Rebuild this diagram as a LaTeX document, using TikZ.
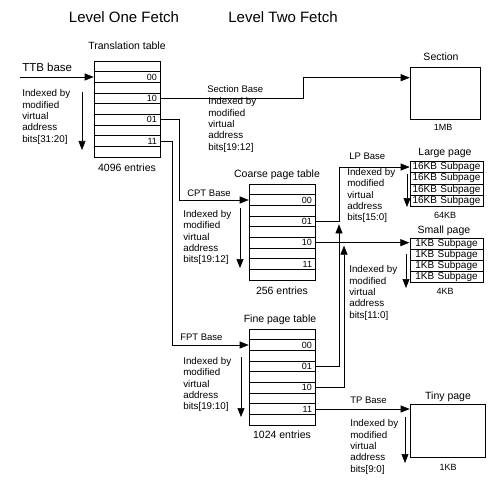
\documentclass[tikz,border=0pt]{standalone}
\usepackage{fontspec}
\setmainfont{Liberation Sans}
\usetikzlibrary{matrix,positioning,arrows.meta,calc}

\begin{document}
\begin{tikzpicture}[x=1pt,y=-1pt,line width=0.6pt,
        arr/.style={-{Triangle[length=9pt,width=7pt]}},
        tbl/.style={matrix of nodes,nodes in empty cells,inner sep=0pt,row sep=-\pgflinewidth,
            nodes={draw,text width=60pt,align=right,inner xsep=3pt,inner ysep=0pt,
                minimum height=10.67pt,font=\fontsize{9}{9}\selectfont}},
        pg/.style={matrix of nodes,inner sep=0pt,row sep=-\pgflinewidth,
            nodes={draw,text width=69pt,align=center,inner xsep=2pt,inner ysep=0pt,
                font=\fontsize{10}{10}\selectfont}},
        idx/.style={anchor=west,align=left,inner sep=0pt,font=\fontsize{9.8}{11.3}\selectfont},
        basetxt/.style={anchor=west,inner sep=0pt,font=\fontsize{9.5}{11}\selectfont},
        captxt/.style={inner sep=0pt,font=\fontsize{10.5}{12}\selectfont},
        sizetxt/.style={inner sep=0pt,font=\fontsize{9}{10}\selectfont}]
    \useasboundingbox (0,0) rectangle (489,481);
    \node (lvlone) [font=\fontsize{15}{17}\selectfont] at (124,17) {Level One Fetch};
    \node (lvltwo) [font=\fontsize{15}{17}\selectfont] at (283,17) {Level Two Fetch};

    \matrix (tt) [tbl] at (127,109) {\\ 00\\ \\ 10\\ \\ 01\\ \\ 11\\ \\};
    \matrix (cpt) [tbl] at (282,232) {\\ 00\\ \\ 01\\ \\ 10\\ \\ 11\\ \\};
    \matrix (fpt) [tbl] at (282,377) {\\ 00\\ \\ 01\\ \\ 10\\ \\ 11\\ \\};
    \matrix (lpg) [pg,nodes={minimum height=11.3pt}] at (446.5,184)
        {16KB Subpage\\ 16KB Subpage\\ 16KB Subpage\\ 16KB Subpage\\};
    \matrix (spg) [pg,nodes={minimum height=11pt}] at (446.5,260)
        {1KB Subpage\\ 1KB Subpage\\ 1KB Subpage\\ 1KB Subpage\\};
    \node (sec) [draw,minimum width=70pt,minimum height=52pt] at (445,93) {};
    \node (tiny) [draw,minimum width=75pt,minimum height=53pt] at (447.5,430.5) {};

    \node (ttcap) [captxt] at (127,46) {Translation table};
    \node (ttcount) [captxt] at (127,168) {4096 entries};
    \node (cptcap) [captxt] at (277,175) {Coarse page table};
    \node (cptcount) [captxt] at (282,291) {256 entries};
    \node (fptcap) [captxt] at (280,320) {Fine page table};
    \node (fptcount) [captxt] at (282,435) {1024 entries};
    \node (seccap) [captxt] at (441,57) {Section};
    \node (secsize) [sizetxt] at (443,127) {1MB};
    \node (lpgcap) [captxt] at (445,153) {Large page};
    \node (lpgsize) [sizetxt] at (445,215) {64KB};
    \node (spgcap) [captxt] at (444,231) {Small page};
    \node (spgsize) [sizetxt] at (445,291) {4KB};
    \node (tinycap) [captxt] at (448,397) {Tiny page};
    \node (tinysize) [sizetxt] at (448,467) {1KB};

    \node (ttb) [anchor=west,inner sep=0pt,font=\fontsize{11.5}{13}\selectfont] at (22,67) {TTB base};
    \node (secbase) [basetxt] at (207,89) {Section Base};
    \node (cptbase) [basetxt] at (187,193) {CPT Base};
    \node (fptbase) [basetxt] at (180,337) {FPT Base};
    \node (lpbase) [basetxt] at (349,156) {LP Base};
    \node (tpbase) [basetxt] at (350,400) {TP Base};

    \node (ttidx) [idx] at (22,117) {Indexed by\\modified\\virtual\\address\\bits[31:20]};
    \node (secidx) [idx] at (208,125) {Indexed by\\modified\\virtual\\address\\bits[19:12]};
    \node (cptidx) [idx] at (183,237.5) {Indexed by\\modified\\virtual\\address\\bits[19:12]};
    \node (fptidx) [idx] at (183,384.5) {Indexed by\\modified\\virtual\\address\\bits[19:10]};
    \node (lpidx) [idx] at (347,195.5) {Indexed by\\modified\\virtual\\address\\bits[15:0]};
    \node (spidx) [idx] at (349,293) {Indexed by\\modified\\virtual\\address\\bits[11:0]};
    \node (tpidx) [idx] at (350,447) {Indexed by\\modified\\virtual\\address\\bits[9:0]};

    \coordinate (ttbin) at (20,0);
    \coordinate (secx) at (303,0);
    \coordinate (cptx) at (179,0);
    \coordinate (fptx) at (172,0);
    \coordinate (lpx) at (339,0);
    \coordinate (spx) at (344,0);
    \draw[arr] (ttbin |- tt-2-1.west) -- (tt-2-1.west);
    \draw[arr] (tt-4-1.east) -- (tt-4-1.east -| secx) |- ([yshift=-11pt]sec.north west);
    \draw[arr] (tt-6-1.east) -- (tt-6-1.east -| cptx) |- (cpt-2-1.west);
    \draw[arr] (tt-8-1.east) -- (tt-8-1.east -| fptx) |- (fpt-2-1.west);
    \draw[arr] (cpt-4-1.east) -- (cpt-4-1.east -| lpx) |- (lpg-1-1.west);
    \draw[arr] (cpt-6-1.east) -- (cpt-6-1.east -| spg.west);
    \draw[arr] (fpt-4-1.east) -| ([yshift=-3pt]cpt-4-1.east -| lpx);
    \draw[arr] (fpt-6-1.east) -| ([yshift=-3pt]cpt-6-1.east -| spx);
    \draw[arr] (fpt-8-1.east) -- (fpt-8-1.east -| tiny.west);

    \foreach \n/\x/\ya/\yb in {tt/82/92/150,cpt/240/208/268,fpt/241/357/417,
            lpg/407/174/207,spg/406/254/288,tiny/405/417/463}{
        \coordinate (\n ixa) at (\x,\ya);
        \coordinate (\n ixb) at (\x,\yb);
        \draw[arr] (\n ixa) -- (\n ixb);
    }
\end{tikzpicture}
\end{document}
